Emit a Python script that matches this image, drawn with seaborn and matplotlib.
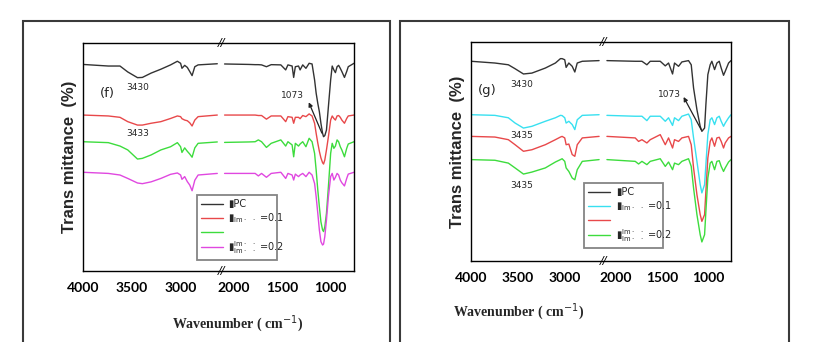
#=====================================================================================================
# FTIR spectra, panels (f) and (g), broken wavenumber axis
#=====================================================================================================

import numpy as np
import pandas as pd
import matplotlib
matplotlib.use("Agg")
import matplotlib.pyplot as plt
import matplotlib.transforms as mtransforms
from matplotlib.patches import Rectangle
import seaborn as sns

#-----------------------------------------------------------------------------------------------------
# Data (wavenumber in cm-1, transmittance in arbitrary offset units)
#-----------------------------------------------------------------------------------------------------
WN_F_HIGH = [4000, 3740, 3620, 3540, 3440, 3390, 3300, 3200, 3100, 3030, 2997, 2983, 2955, 2928,
             2903, 2879, 2851, 2817, 2620]
WN_F_LOW = [2090, 1840, 1776, 1743, 1710, 1660, 1611, 1512, 1462, 1439, 1396, 1380, 1363, 1330,
            1314, 1287, 1254, 1221, 1191, 1165, 1149, 1132, 1116, 1100, 1083, 1073, 1060, 1043,
            1023, 1000, 984, 967, 951, 934, 918, 901, 885, 858, 835, 819, 760]

F_PC_HIGH = [90.6, 89.9, 89.9, 87.3, 84.8, 84.9, 86.8, 88.5, 90.4, 92.0, 91.1, 88.9, 90.2, 89.3,
             87.5, 85.7, 89.6, 90.4, 90.9]
F_PC_LOW = [90.8, 90.6, 90.5, 90.5, 90.4, 89.6, 90.5, 90.4, 88.2, 90.4, 89.9, 84.9, 89.6, 89.9,
            88.2, 90.4, 88.9, 91.1, 90.8, 83.8, 78.0, 73.5, 69.9, 64.8, 60.4, 58.9, 59.4, 61.8,
            72.1, 83.8, 89.9, 88.2, 87.0, 89.6, 90.2, 88.9, 87.5, 84.9, 87.5, 89.6, 91.1]
F_01_HIGH = [68.4, 68.0, 67.4, 65.5, 64.0, 64.0, 64.8, 65.5, 66.9, 68.0, 67.7, 66.8, 66.2, 65.9,
             65.0, 63.6, 66.2, 67.7, 68.4]
F_01_LOW = [68.4, 68.4, 68.4, 68.2, 68.2, 66.6, 68.0, 68.0, 65.5, 67.7, 67.4, 64.8, 67.4, 67.4,
            66.8, 68.2, 67.7, 68.9, 68.0, 64.8, 60.4, 56.1, 52.5, 49.6, 47.5, 46.9, 48.7, 53.1,
            58.9, 66.2, 68.0, 66.9, 66.2, 68.0, 68.2, 67.4, 66.2, 64.8, 66.9, 68.0, 68.4]
F_X_HIGH = [56.7, 56.3, 54.8, 53.1, 49.1, 49.4, 50.9, 53.1, 54.5, 56.3, 54.5, 52.0, 54.0, 52.5,
            51.3, 49.9, 54.0, 56.0, 56.6]
F_X_LOW = [56.4, 56.6, 56.7, 57.5, 56.7, 54.2, 56.0, 57.5, 54.8, 56.7, 55.3, 50.1, 56.0, 54.8,
           55.7, 56.7, 54.5, 58.2, 56.7, 51.6, 44.3, 35.5, 28.2, 21.6, 18.0, 17.3, 19.4, 25.3,
           37.0, 51.6, 56.0, 53.8, 54.8, 57.5, 56.7, 54.5, 53.1, 50.1, 53.8, 55.7, 56.7]
F_02_HIGH = [43.3, 42.8, 42.1, 40.6, 38.6, 38.3, 39.1, 40.6, 42.4, 43.0, 42.1, 40.2, 41.4, 39.2,
             37.7, 35.2, 39.8, 42.1, 42.8]
F_02_LOW = [42.8, 42.8, 42.8, 41.7, 42.8, 41.1, 42.8, 43.3, 40.6, 42.8, 42.1, 39.9, 42.5, 41.4,
            42.1, 42.8, 41.4, 43.3, 42.1, 38.4, 32.6, 25.3, 18.0, 12.9, 11.4, 11.8, 15.1, 22.4,
            32.6, 41.4, 42.8, 39.9, 41.1, 42.8, 42.1, 39.9, 38.7, 37.3, 40.6, 42.5, 43.3]

WN_G_HIGH = [4000, 3744, 3600, 3528, 3438, 3348, 3204, 3096, 3042, 3024, 2996, 2981, 2952, 2916,
             2888, 2862, 2808, 2628]
WN_G_LOW = [2089, 1786, 1750, 1714, 1661, 1625, 1518, 1464, 1429, 1386, 1365, 1322, 1286, 1215,
            1186, 1161, 1125, 1090, 1072, 1043, 1029, 1008, 983, 965, 936, 911, 886, 865, 840,
            822, 786, 760]

G_PC_HIGH = [91.2, 90.4, 89.6, 87.8, 85.4, 85.8, 88.1, 90.4, 92.4, 92.4, 91.9, 88.4, 90.4, 88.9,
             86.3, 90.4, 91.2, 91.5]
G_PC_LOW = [91.5, 91.2, 91.2, 91.2, 89.6, 91.2, 91.2, 89.1, 90.4, 85.4, 90.4, 88.9, 90.9, 91.5,
            89.6, 79.0, 69.1, 61.5, 59.2, 60.7, 71.4, 85.1, 89.6, 91.2, 87.4, 90.4, 91.2, 88.1,
            84.8, 86.6, 90.4, 91.5]
G_01_HIGH = [66.8, 66.5, 65.4, 63.0, 60.7, 61.5, 63.8, 65.4, 66.5, 66.4, 65.4, 63.0, 63.8, 62.3,
             60.0, 64.5, 66.5, 66.8]
G_01_LOW = [66.5, 66.1, 66.1, 66.1, 64.1, 66.1, 66.1, 63.8, 65.4, 61.9, 65.4, 64.1, 66.1, 67.1,
            64.5, 56.2, 45.5, 34.9, 31.1, 34.9, 44.0, 57.7, 64.5, 65.4, 62.3, 65.4, 66.1, 63.8,
            61.5, 63.0, 65.4, 66.8]
G_X_HIGH = [56.9, 56.6, 55.4, 53.1, 50.1, 50.8, 53.1, 55.4, 56.6, 56.9, 56.2, 53.1, 53.4, 48.6,
            47.8, 53.1, 56.2, 56.9]
G_X_LOW = [56.9, 56.2, 54.6, 55.4, 53.9, 55.4, 57.7, 53.1, 56.2, 51.6, 55.4, 54.6, 56.2, 56.9,
           53.1, 42.5, 30.3, 21.2, 18.1, 21.2, 31.8, 47.0, 54.6, 56.2, 52.4, 56.2, 56.5, 54.6,
           51.6, 53.9, 56.2, 56.9]
G_02_HIGH = [46.3, 46.0, 44.7, 42.5, 39.7, 40.6, 42.5, 45.2, 46.3, 46.7, 45.5, 42.5, 40.9, 37.9,
             37.1, 41.7, 45.5, 46.3]
G_02_LOW = [46.3, 45.5, 44.3, 45.5, 44.0, 45.5, 46.7, 43.2, 45.2, 41.7, 44.7, 44.0, 45.5, 46.7,
            43.2, 33.3, 21.2, 12.0, 8.7, 12.0, 22.7, 37.9, 44.7, 45.5, 41.7, 45.5, 45.8, 43.2,
            40.9, 42.5, 45.2, 46.3]

MAJOR_TICKS = [4000, 3500, 3000, 2000, 1500, 1000]
MINOR_TICKS = [3750, 3250, 2750, 1750, 1250]

LEGEND_LABELS = ["\u25aePC", "\u25ae$_{\\rm Im\\cdot\\ \\ \\cdot}$ =0.1", "",
                 "\u25ae$^{\\rm Im\\cdot\\ \\ \\cdot}_{\\rm Im\\cdot\\ \\ \\cdot}$ =0.2"]

# axis break (the region between these two wavenumbers is collapsed)
BREAK_HIGH = 2580
BREAK_LOW = 2125


def fwd(x):
    x = np.asarray(x, dtype=float)
    return np.where(x >= BREAK_HIGH, x - (BREAK_HIGH - BREAK_LOW),
                    np.where(x <= BREAK_LOW, x, BREAK_LOW))


def inv(y):
    y = np.asarray(y, dtype=float)
    return np.where(y > BREAK_LOW, y + (BREAK_HIGH - BREAK_LOW), y)


def build_frame(wn_high, wn_low, series):
    rows = []
    for name, (high, low) in series.items():
        for seg, (wn, vals) in enumerate([(wn_high, high), (wn_low, low)]):
            for w, v in zip(wn, vals):
                rows.append({"wn": w, "T": v, "sample": name, "segment": seg})
    return pd.DataFrame(rows)


def draw_panel(ax, df, palette, legend_box, xlabel_pos, tag, notes, arrow):
    sns.lineplot(data=df, x="wn", y="T", hue="sample", units="segment", estimator=None,
                 sort=False, palette=palette, linewidth=1.0, ax=ax)
    ax.set_xscale("function", functions=(fwd, inv))
    ax.set_xlim(4000, 760)
    ax.set_ylim(0, 100)
    ax.set_xticks(MAJOR_TICKS)
    ax.set_xticks(MINOR_TICKS, minor=True)
    ax.set_xticklabels([str(t) for t in MAJOR_TICKS], fontsize=10, fontweight="bold",
                       family="Lato", color="black")
    ax.set_yticks([])
    ax.tick_params(axis="x", which="major", direction="in", length=5, width=1, pad=8,
                   top=False)
    ax.tick_params(axis="x", which="minor", direction="in", length=3, width=1, top=False)
    for s in ax.spines.values():
        s.set_visible(True)
        s.set_color("black")
        s.set_linewidth(1.0)
    ax.set_xlabel("Wavenumber ( cm$^{-1}$)", fontsize=10, fontweight="bold",
                  family="Liberation Serif")
    ax.xaxis.set_label_coords(xlabel_pos[0], xlabel_pos[1])
    ax.set_ylabel("Trans mittance  (%)", fontsize=12, fontweight="bold",
                  family="Liberation Sans", labelpad=4)

    # break marks
    trans = mtransforms.blended_transform_factory(ax.transData, ax.transAxes)
    for yy in (1.0, 0.0):
        ax.text(2350, yy, "//", transform=trans, ha="center", va="center", fontsize=8,
                color="black", style="italic")

    # legend
    handles, _ = ax.get_legend_handles_labels()
    leg = ax.legend(handles, LEGEND_LABELS, loc="lower left", bbox_to_anchor=legend_box,
                    mode="expand", fontsize=7, frameon=True, fancybox=False,
                    handlelength=2.2, handletextpad=0.6, labelspacing=0.2,
                    borderpad=0.45, borderaxespad=0)
    leg.get_frame().set_edgecolor("#666666")
    leg.get_frame().set_linewidth(1.3)

    # text annotations
    ax.text(tag[0], tag[1], tag[2], fontsize=9.5, ha="center", va="center")
    for x, y, s in notes:
        ax.text(x, y, s, fontsize=6.5, ha="center", va="center")
    ax.text(arrow[0], arrow[1], "1073", fontsize=6.5, ha="center", va="center")
    ax.annotate("", xy=arrow[2], xytext=arrow[3],
                arrowprops=dict(arrowstyle="-|>", color="#222222", lw=0.9,
                                mutation_scale=6, shrinkA=0, shrinkB=0))


def main():
    sns.set_theme(style="white")
    plt.rcParams["font.family"] = ["DejaVu Sans"]

    fig = plt.figure(figsize=(8.26, 3.42), dpi=100)
    fig.patch.set_facecolor("white")

    # outer frames around each panel
    for x0, w in [(23 / 826, 367 / 826), (400 / 826, 389 / 826)]:
        fig.patches.append(Rectangle((x0, -0.1), w, 1.1 - 21 / 342, transform=fig.transFigure,
                                     fill=False, edgecolor="#3a3a3a", linewidth=1.5))

    ax_f = fig.add_axes([83 / 826, 1 - 271 / 342, 271 / 826, 228 / 342])
    ax_g = fig.add_axes([471 / 826, 1 - 261 / 342, 260 / 826, 219 / 342])

    df_f = build_frame(WN_F_HIGH, WN_F_LOW, {
        "PC": (F_PC_HIGH, F_PC_LOW),
        "f01": (F_01_HIGH, F_01_LOW),
        "fx": (F_X_HIGH, F_X_LOW),
        "f02": (F_02_HIGH, F_02_LOW),
    })
    df_g = build_frame(WN_G_HIGH, WN_G_LOW, {
        "PC": (G_PC_HIGH, G_PC_LOW),
        "g01": (G_01_HIGH, G_01_LOW),
        "gx": (G_X_HIGH, G_X_LOW),
        "g02": (G_02_HIGH, G_02_LOW),
    })

    pal_f = {"PC": "#333333", "f01": "#e8484a", "fx": "#3ddc3d", "f02": "#e048e0"}
    pal_g = {"PC": "#333333", "g01": "#38e0f0", "gx": "#e8484a", "g02": "#3ddc3d"}

    draw_panel(ax_f, df_f, pal_f, (0.42, 0.048, 0.296, 0.285), (0.572, -0.185),
               (3750, 78, "(f)"),
               [(3440, 80.5, "3430"), (3440, 60.5, "3433")],
               (1393, 76.8, (1225, 74.0), (1090, 60.5)))
    draw_panel(ax_g, df_g, pal_g, (0.435, 0.059, 0.303, 0.283), (0.181, -0.185),
               (3827, 78, "(g)"),
               [(3460, 80.4, "3430"), (3460, 57.5, "3435"), (3460, 34.7, "3435")],
               (1418, 75.8, (1268, 74.9), (1080, 60.0)))

    fig.savefig("out.png", dpi=100, facecolor="white")


if __name__ == "__main__":
    main()
